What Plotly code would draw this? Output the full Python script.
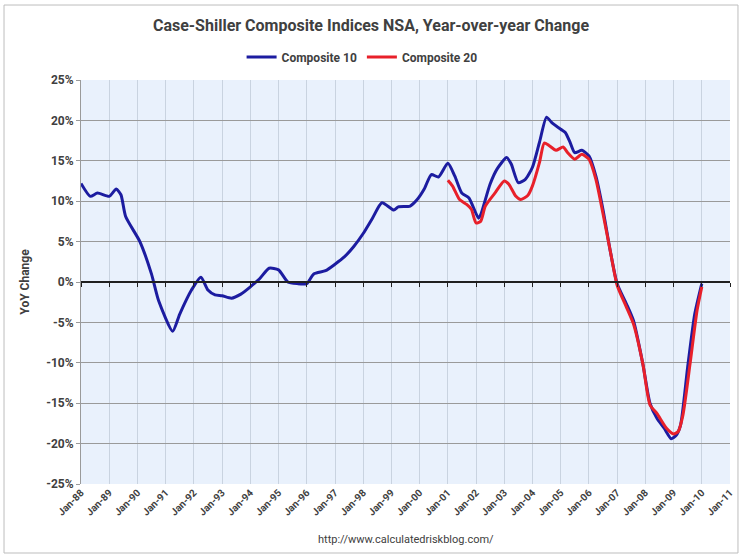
import plotly.graph_objects as go

c10_dates = ["1988-01-01","1988-05-01","1988-08-01","1989-01-01","1989-04-01","1989-06-01","1989-08-01",
             "1990-02-01","1990-07-01","1990-10-01","1991-04-01","1991-07-01","1991-12-01","1992-04-01",
             "1992-07-01","1992-10-01","1993-01-01","1993-05-01","1993-09-01","1994-01-01","1994-05-01",
             "1994-09-01","1995-01-01","1995-05-01","1995-09-01","1996-01-01","1996-04-01","1996-09-01",
             "1997-01-01","1997-05-01","1997-09-01","1998-01-01","1998-05-01","1998-09-01","1999-02-01",
             "1999-04-01","1999-09-01","1999-12-01","2000-03-01","2000-06-01","2000-09-01","2001-01-01",
             "2001-04-01","2001-07-01","2001-10-01","2002-02-01","2002-03-01","2002-07-01","2002-10-01",
             "2003-02-01","2003-04-01","2003-07-01","2003-10-01","2004-01-01","2004-04-01","2004-07-01",
             "2004-09-01","2005-01-01","2005-03-01","2005-05-01","2005-07-01","2005-10-01","2006-01-01",
             "2006-04-01","2006-07-01","2006-10-01","2007-01-01","2007-05-01","2007-08-01","2007-12-01",
             "2008-03-01","2008-06-01","2008-09-01","2008-12-01","2009-02-01","2009-04-01","2009-07-01",
             "2009-10-01","2010-01-01"]
c10_values = [12.2,10.6,11.0,10.6,11.5,10.8,8.1,
              5.0,1.0,-2.3,-6.1,-4.0,-1.0,0.6,
              -1.0,-1.6,-1.7,-2.0,-1.5,-0.6,0.4,
              1.7,1.5,0.0,-0.2,-0.2,1.0,1.4,
              2.2,3.1,4.4,6.0,7.9,9.8,8.9,
              9.3,9.4,10.2,11.5,13.3,13.0,14.7,
              13.1,11.0,10.4,7.9,8.3,12.1,14.0,
              15.4,14.6,12.3,12.7,14.2,17.3,20.4,
              19.8,18.9,18.5,17.3,16.0,16.3,15.6,
              13.1,9.0,4.0,-0.2,-2.7,-4.8,-10.2,
              -15.0,-16.9,-18.1,-19.4,-19.0,-17.7,-10.6,
              -4.0,-0.2]

c20_dates = ["2001-01-01","2001-03-01","2001-06-01","2001-09-01","2001-11-01","2002-01-01","2002-03-01",
             "2002-05-01","2002-09-01","2003-01-01","2003-03-01","2003-06-01","2003-08-01","2003-11-01",
             "2004-01-01","2004-04-01","2004-06-01","2004-08-01","2004-11-01","2005-02-01","2005-04-01",
             "2005-07-01","2005-10-01","2006-01-01","2006-04-01","2006-07-01","2006-10-01","2007-01-01",
             "2007-05-01","2007-08-01","2007-12-01","2008-03-01","2008-06-01","2008-10-01","2009-01-01",
             "2009-03-01","2009-05-01","2009-08-01","2009-11-01","2010-01-01"]
c20_values = [12.6,11.9,10.2,9.6,9.0,7.3,7.5,
              9.4,11.0,12.5,12.1,10.6,10.2,10.7,
              11.9,14.8,17.2,16.9,16.3,16.7,16.0,
              15.2,15.8,15.2,12.7,8.5,4.0,-0.4,
              -3.1,-5.2,-10.2,-15.2,-16.3,-18.1,-18.8,
              -18.5,-16.5,-10.2,-3.5,-0.6]

y_ticks = [25, 20, 15, 10, 5, 0, -5, -10, -15, -20, -25]
y_tick_labels = [f"{v}%" for v in y_ticks]

FONT = "Liberation Sans Narrow, Roboto, Arial, sans-serif"
TXT = "#404040"

fig = go.Figure()
fig.add_trace(go.Scatter(x=c10_dates, y=c10_values, name="Composite 10", mode="lines",
                         line=dict(color="#1c1ca0", width=3, shape="spline", smoothing=0.6)))
fig.add_trace(go.Scatter(x=c20_dates, y=c20_values, name="Composite 20", mode="lines",
                         line=dict(color="#e8202a", width=3, shape="spline", smoothing=0.6)))
# invisible trace so the zero-crossing category axis is drawn
fig.add_trace(go.Scatter(x=[c10_dates[0]], y=[0], xaxis="x2", mode="lines",
                         showlegend=False, hoverinfo="skip", line=dict(width=0)))

fig.update_layout(
    width=742, height=559,
    margin=dict(l=81, r=12, t=80, b=75, autoexpand=False),
    paper_bgcolor="white",
    plot_bgcolor="#e9f1fc",
    title=dict(text="<b>Case-Shiller Composite Indices NSA, Year-over-year Change</b>",
               x=0.5, xref="container", xanchor="center", y=0.955, yref="container", yanchor="middle",
               font=dict(family=FONT, size=16, color=TXT), automargin=False),
    legend=dict(orientation="h", x=0.488, xanchor="center", xref="container",
                y=0.898, yref="container", yanchor="middle",
                font=dict(family=FONT, size=12, color=TXT, weight="bold"), itemwidth=30,
                bgcolor="rgba(0,0,0,0)", tracegroupgap=0),
    xaxis=dict(range=["1988-01-01", "2011-01-01"], tick0="1988-01-01", dtick="M12",
               tickformat="%b-%y", tickangle=-45, automargin=False,
               tickfont=dict(family=FONT, size=10, color=TXT, weight="bold"),
               showgrid=True, gridcolor="#c9d3e0", gridwidth=1,
               showline=False, zeroline=False, ticks=""),
    xaxis2=dict(range=["1988-01-01", "2011-01-01"], tick0="1988-01-01", dtick="M12",
                overlaying="x", anchor="free", position=0.5, side="bottom", automargin=False,
                showticklabels=False, showgrid=False, zeroline=False,
                showline=True, linecolor="#202020", linewidth=1.5,
                ticks="outside", ticklen=4, tickcolor="#202020"),
    yaxis=dict(range=[-25, 25], tickvals=y_ticks, ticktext=y_tick_labels, automargin=False,
               tickfont=dict(family=FONT, size=12, color=TXT, weight="bold"),
               title=dict(text="<b>YoY Change</b>", font=dict(family=FONT, size=12, color=TXT), standoff=14),
               showgrid=True, gridcolor="#9a9a9a", gridwidth=1,
               zeroline=False, showline=True, linecolor="#9a9a9a",
               ticks="outside", ticklen=4, tickcolor="#9a9a9a"),
    annotations=[dict(text="http://www.calculatedriskblog.com/", x=0.5, xref="paper",
                      y=-0.138, yref="paper", xanchor="center", yanchor="middle", showarrow=False,
                      font=dict(family=FONT, size=11, color=TXT))],
    shapes=[dict(type="rect", xref="paper", yref="paper", x0=-0.1186, x1=1.0123,
                 y0=-0.1708, y1=1.1856, line=dict(color="#bdbdbd", width=1), layer="below")],
)

fig.write_html("out.html", config={"displayModeBar": False},
               post_script="document.body.style.margin='0';")
